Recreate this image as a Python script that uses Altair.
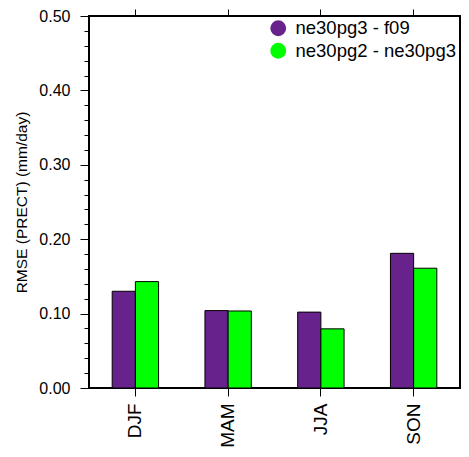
import altair as alt
import pandas as pd

seasons = ["DJF", "MAM", "JJA", "SON"]
series_names = ["ne30pg3 - f09", "ne30pg2 - ne30pg3"]
series_colors = ["#68228B", "#00FF00"]
vals_pg3_f09 = [0.130, 0.104, 0.102, 0.181]
vals_pg2_pg3 = [0.143, 0.1035, 0.0795, 0.161]
y_ticks = [0.00, 0.02, 0.04, 0.06, 0.08, 0.10, 0.12, 0.14, 0.16, 0.18, 0.20,
           0.22, 0.24, 0.26, 0.28, 0.30, 0.32, 0.34, 0.36, 0.38, 0.40,
           0.42, 0.44, 0.46, 0.48, 0.50]

rows = []
for s, a, b in zip(seasons, vals_pg3_f09, vals_pg2_pg3):
    rows.append({"season": s, "series": series_names[0], "value": a})
    rows.append({"season": s, "series": series_names[1], "value": b})
df = pd.DataFrame(rows)

FONT = "Liberation Sans"
major_test = "abs(datum.value*10 - round(datum.value*10)) < 0.001"

PLOT_W = 371
PLOT_H = 372

xscale = alt.Scale(paddingInner=0.5, paddingOuter=0.25)
yscale = alt.Scale(domain=[0, 0.5], nice=False, zero=True)

bars = alt.Chart(df).mark_bar(stroke="black", strokeWidth=1).encode(
    x=alt.X("season:N", sort=seasons, scale=xscale,
            axis=alt.Axis(orient="bottom", title=None, labelAngle=270,
                          labelFontSize=19, labelFont=FONT, labelColor="black",
                          labelPadding=7, tickSize=8, tickColor="black",
                          tickWidth=1, domain=False)),
    xOffset=alt.XOffset("series:N", sort=series_names),
    y=alt.Y("value:Q", scale=yscale,
            axis=alt.Axis(orient="left", title="RMSE (PRECT) (mm/day)",
                          values=y_ticks,
                          labelExpr=f"({major_test}) ? format(datum.value, '.2f') : ''",
                          labelFontSize=16, labelFont=FONT, labelColor="black",
                          labelPadding=10,
                          tickSize={"condition": {"test": major_test, "value": 9}, "value": 5},
                          tickColor="black", tickWidth=1, domain=False, grid=False,
                          titleFontSize=15.5, titleFont=FONT, titleFontWeight="normal",
                          titleColor="black", titleX=-68, titleY=PLOT_H / 2,
                          titleBaseline="middle", titleAngle=270)),
    color=alt.Color("series:N", sort=series_names,
                    scale=alt.Scale(domain=series_names, range=series_colors),
                    legend=alt.Legend(title=None, orient="none", legendX=180, legendY=3,
                                      symbolType="circle", symbolSize=250,
                                      symbolStrokeWidth=0, symbolOpacity=1,
                                      labelFontSize=18.5, labelFont=FONT,
                                      labelColor="black", rowPadding=3.5,
                                      labelOffset=8, padding=0, labelLimit=400)),
)

frame = alt.Chart(df).mark_tick(opacity=0).encode(
    x=alt.X("season:N", sort=seasons, scale=xscale,
            axis=alt.Axis(orient="top", title=None, labels=False, tickSize=7,
                          tickColor="black", tickWidth=1, domain=False)),
    y=alt.Y("value:Q", scale=yscale,
            axis=alt.Axis(orient="right", title=None, labels=False, values=y_ticks,
                          tickSize={"condition": {"test": major_test, "value": 9}, "value": 5},
                          tickColor="black", tickWidth=1, domain=False, grid=False)),
)

chart = alt.layer(bars, frame).resolve_axis(
    x="independent", y="independent"
).properties(
    width=PLOT_W, height=PLOT_H,
    autosize=alt.AutoSizeParams(type="none"),
    padding={"left": 81, "top": 8, "right": 1, "bottom": 59},
).configure_view(stroke="black", strokeWidth=2)

chart.save("out.html", embed_options={"renderer": "svg", "actions": False})
